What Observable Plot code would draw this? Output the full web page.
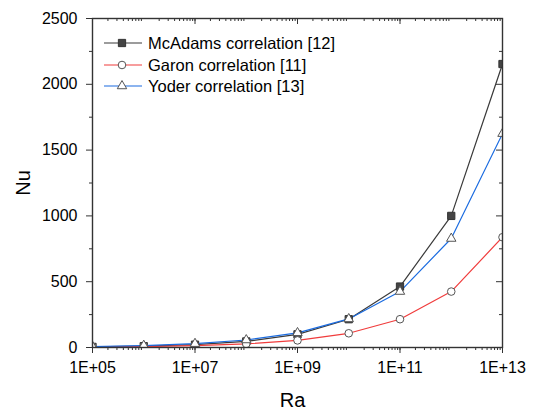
<!DOCTYPE html>
<html><head><meta charset="utf-8">
<script src="https://cdn.jsdelivr.net/npm/d3@7"></script>
<script src="https://cdn.jsdelivr.net/npm/@observablehq/plot@0.6"></script>
<style>
body{margin:0;background:#fff}
#chart{width:537px;height:410px}
</style>
</head><body><div id="chart"></div>
<script>
// ---- data ----
const ra = [1e5, 1e6, 1e7, 1e8, 1e9, 1e10, 1e11, 1e12, 1e13];
const mcadams = [4.6, 10, 21.5, 46, 100, 215, 463, 1000, 2154];
const garon   = [3.4, 6.8, 13.5, 27, 54, 108, 215, 425, 838];
const yoder   = [7.5, 14.5, 29, 57, 111, 217, 425, 828, 1625];
const seriesNames = ["McAdams correlation [12]", "Garon correlation [11]", "Yoder correlation [13]"];
const xMajor = [1e5, 1e7, 1e9, 1e11, 1e13];
const xTickLabels = ["1E+05", "1E+07", "1E+09", "1E+11", "1E+13"];
const yMajor = [0, 500, 1000, 1500, 2000, 2500];
const yMinor = [250, 750, 1250, 1750, 2250];
const xLabel = "Ra";
const yLabel = "Nu";

// minor log ticks: 2..9 in every decade plus the unlabelled decades
const xMinor = [];
for (let k = 5; k < 13; k++) {
  for (let m = 1; m <= 9; m++) {
    const v = m * Math.pow(10, k);
    if (m === 1 && k % 2 === 1) xMinor.push(v);
    if (m > 1) xMinor.push(v);
  }
}

const W = 537, H = 410;
const mL = 92, mR = 35, mT = 18, mB = 63;
const innerW = W - mL - mR, innerH = H - mT - mB;
const axisColor = "#333";
const font = "'Liberation Sans', Arial, sans-serif";

const styles = [
  {stroke: "#3a3a3a", symbol: "square", r: 4.1, fill: "#444", dotStroke: "#333"},
  {stroke: "#f03c3c", symbol: "circle", r: 3.8, fill: "#fff", dotStroke: "#555"},
  {stroke: "#1a6be0", symbol: "triangle", r: 3.5, fill: "#fff", dotStroke: "#555"}
];
const seriesValues = [mcadams, garon, yoder];
const tables = seriesValues.map(vals => ra.map((r, i) => ({ra: r, nu: vals[i]})));

const fmt = d => xTickLabels[xMajor.indexOf(d)] ?? "";

const marks = [];
// top & right mirrored ticks (inward)
marks.push(Plot.ruleX(xMajor, {x: d => d, insetBottom: innerH - 6, stroke: axisColor, strokeWidth: 1}));
marks.push(Plot.ruleX(xMinor, {x: d => d, insetBottom: innerH - 3, stroke: axisColor, strokeWidth: 1}));
marks.push(Plot.ruleY(yMajor, {y: d => d, insetLeft: innerW - 6, stroke: axisColor, strokeWidth: 1}));
marks.push(Plot.ruleY(yMinor, {y: d => d, insetLeft: innerW - 3, stroke: axisColor, strokeWidth: 1}));
// bottom & left axes (outward)
marks.push(Plot.axisX(xMajor, {tickSize: 6, tickPadding: 8, tickFormat: fmt, fontSize: 16, stroke: axisColor, fill: "#000", label: null}));
marks.push(Plot.axisX(xMinor, {tickSize: 3, tickFormat: () => "", stroke: axisColor, label: null}));
marks.push(Plot.axisY(yMajor, {tickSize: 6, tickPadding: 9, tickFormat: d => String(d), fontSize: 16, stroke: axisColor, fill: "#000", label: null}));
marks.push(Plot.axisY(yMinor, {tickSize: 3, tickFormat: () => "", stroke: axisColor, label: null}));
// lines
tables.forEach((t, i) => marks.push(Plot.line(t, {x: "ra", y: "nu", stroke: styles[i].stroke, strokeWidth: 1.2, clip: true})));
// markers
tables.forEach((t, i) => marks.push(Plot.dot(t, {x: "ra", y: "nu", symbol: styles[i].symbol, r: styles[i].r, fill: styles[i].fill, stroke: styles[i].dotStroke, strokeWidth: 1, clip: true})));
// frame
marks.push(Plot.frame({stroke: axisColor, strokeWidth: 1.4}));
// axis titles
marks.push(Plot.text([xLabel], {frameAnchor: "bottom", text: d => d, lineAnchor: "bottom", dy: 59, dx: -5, fontSize: 20, fill: "#000"}));
marks.push(Plot.text([yLabel], {frameAnchor: "left", text: d => d, rotate: -90, lineAnchor: "middle", textAnchor: "middle", dx: -69, fontSize: 20, fill: "#000"}));

const chart = Plot.plot({
  width: W, height: H,
  marginLeft: mL, marginRight: mR, marginTop: mT, marginBottom: mB,
  x: {type: "log", domain: [1e5, 1e13]},
  y: {domain: [0, 2500]},
  style: {fontFamily: font, fontSize: "16px", background: "#fff", color: "#000"},
  marks
});

// legend inside the plot (top-left)
const svg = d3.select(chart);
const lg = svg.append("g").attr("font-family", font).attr("font-size", 16.5).attr("text-anchor", "start");
const rowY = [43, 65, 86];
seriesNames.forEach((name, i) => {
  const g = lg.append("g").attr("transform", `translate(0,${rowY[i]})`);
  g.append("line").attr("x1", 104).attr("x2", 142).attr("y1", 0).attr("y2", 0)
    .attr("stroke", styles[i].stroke).attr("stroke-width", 1.2);
  const sym = {square: d3.symbolSquare, circle: d3.symbolCircle, triangle: d3.symbolTriangle}[styles[i].symbol];
  g.append("path").attr("transform", "translate(122,0)")
    .attr("d", d3.symbol(sym, Math.PI * styles[i].r * styles[i].r)())
    .attr("fill", styles[i].fill).attr("stroke", styles[i].dotStroke).attr("stroke-width", 1);
  g.append("text").attr("x", 148).attr("y", 0).attr("dy", "0.36em").attr("text-anchor", "start").attr("fill", "#000").text(name);
});

document.getElementById("chart").appendChild(chart);
</script>
</body></html>
